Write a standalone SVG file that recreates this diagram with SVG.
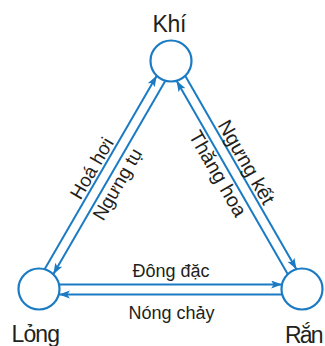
<svg xmlns="http://www.w3.org/2000/svg" width="325" height="346" viewBox="0 0 325 346">
<style>
.ln{stroke:#1a7bc4;stroke-width:2;fill:none;marker-end:url(#ah)}
.nd{stroke:#1a7bc4;stroke-width:2.2;fill:#fff}
.t{font-family:"Liberation Sans",Arial,sans-serif;fill:#231f20}
.nl{font-size:23px}
.el{font-size:19px;text-anchor:middle}
.er{font-size:20px;text-anchor:middle}
</style>
<defs>
<marker id="ah" markerUnits="userSpaceOnUse" markerWidth="13" markerHeight="10" refX="11" refY="4" orient="auto">
<path d="M0,0 L11,4 L0,8 L2.5,4 Z" fill="#1a7bc4"/>
</marker>
</defs>
<g id="connectors">
<path class="ln" d="M44.63,269.28 L156.71,75.70"/>
<path class="ln" d="M165.37,80.72 L53.29,274.30"/>
<path class="ln" d="M185.19,75.69 L296.45,269.35"/>
<path class="ln" d="M287.81,274.31 L176.55,80.65"/>
<path class="ln" d="M58.88,284.5 L282.12,284.5"/>
<path class="ln" d="M282.12,294.5 L58.88,294.5"/>
<text class="t el" transform="translate(97.5,171.5) rotate(-59.93)">Hoá hơi</text>
<text class="t el" transform="translate(123,187.5) rotate(-59.93)">Ngưng tụ</text>
<text class="t er" transform="translate(240.5,165.5) rotate(60.12)">Ngưng kết</text>
<text class="t er" transform="translate(212,177) rotate(60.12)">Thăng hoa</text>
<text class="t" style="font-size:18px;text-anchor:middle" x="171" y="276.5">Đông đặc</text>
<text class="t" style="font-size:18px;text-anchor:middle" x="171.5" y="319">Nóng chảy</text>
</g>
<g id="khi">
<circle class="nd" cx="171" cy="61" r="20.5"/>
<text class="t nl" x="152.5" y="32" textLength="34">Khí</text>
</g>
<g id="long">
<circle class="nd" cx="39" cy="289" r="20.5"/>
<text class="t nl" x="11.5" y="342" textLength="48.5">Lỏng</text>
</g>
<g id="ran">
<circle class="nd" cx="302" cy="289" r="20.5"/>
<text class="t nl" x="285" y="342.5" textLength="38.5">Rắn</text>
</g>
</svg>
